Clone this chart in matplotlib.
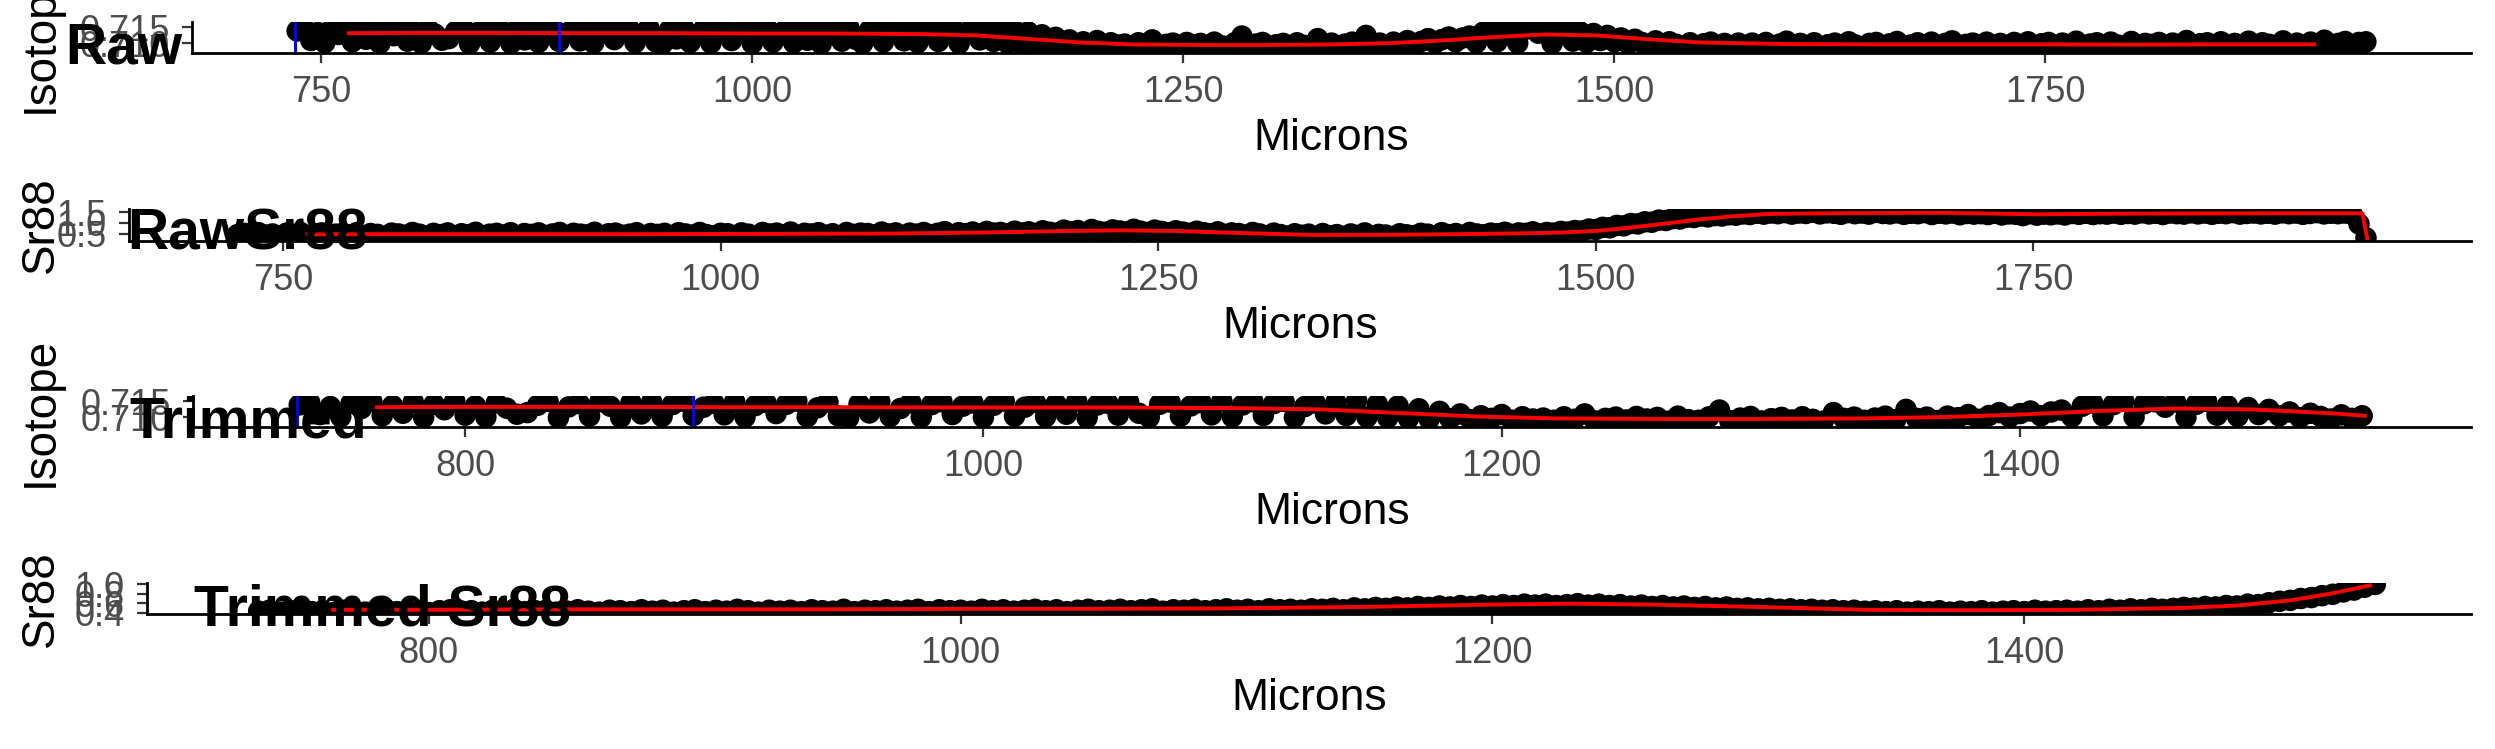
"""Laser ablation transect: raw / trimmed 87Sr/86Sr and Sr88 along the otolith (microns)."""
import matplotlib

matplotlib.use("Agg")
import matplotlib.pyplot as plt
import numpy as np

plt.rcParams["font.family"] = ["Liberation Sans", "DejaVu Sans"]

W, H = 2495, 749

# ---- data -------------------------------------------------------------------
# isotope ratio, sampled every 4 microns from 736 to 1936
ISO_START, ISO_STEP = 736, 4
iso_ratio = [
    0.7138, 0.7146, 0.7108, 0.7133, 0.7101, 0.7143, 0.7127, 0.7149, 0.7104, 0.7136,
    0.7112, 0.7147, 0.7099, 0.7140, 0.7123, 0.7150, 0.7106, 0.7135, 0.7100, 0.7144,
    0.7128, 0.7109, 0.7114, 0.7137, 0.7149, 0.7098, 0.7132, 0.7142, 0.7103, 0.7148,
    0.7134, 0.7099, 0.7145, 0.7110, 0.7147, 0.7102, 0.7139, 0.7150, 0.7105, 0.7131,
    0.7143, 0.7107, 0.7148, 0.7100, 0.7136, 0.7146, 0.7111, 0.7140, 0.7150, 0.7101,
    0.7129, 0.7147, 0.7104, 0.7098, 0.7141, 0.7113, 0.7149, 0.7102, 0.7127, 0.7145,
    0.7100, 0.7139, 0.7148, 0.7108, 0.7134, 0.7144, 0.7099, 0.7137, 0.7150, 0.7103,
    0.7131, 0.7146, 0.7101, 0.7141, 0.7109, 0.7149, 0.7098, 0.7138, 0.7143, 0.7106,
    0.7148, 0.7112, 0.7099, 0.7140, 0.7147, 0.7103, 0.7135, 0.7145, 0.7107, 0.7150,
    0.7101, 0.7138, 0.7148, 0.7105, 0.7142, 0.7149, 0.7099, 0.7133, 0.7144, 0.7110,
    0.7146, 0.7105, 0.7152, 0.7100, 0.7140, 0.7098, 0.7135, 0.7096, 0.7126, 0.7094,
    0.7118, 0.7095, 0.7110, 0.7092, 0.7104, 0.7096, 0.7108, 0.7090, 0.7101, 0.7094,
    0.7097, 0.7090, 0.7101, 0.7093, 0.7110, 0.7088, 0.7096, 0.7100, 0.7091, 0.7102,
    0.7094, 0.7099, 0.7087, 0.7103, 0.7092, 0.7090, 0.7101, 0.7122, 0.7089, 0.7097,
    0.7102, 0.7088, 0.7095, 0.7099, 0.7091, 0.7101, 0.7093, 0.7087, 0.7114, 0.7096,
    0.7100, 0.7090, 0.7097, 0.7103, 0.7092, 0.7124, 0.7096, 0.7100, 0.7089, 0.7103,
    0.7098, 0.7108, 0.7093, 0.7105, 0.7114, 0.7100, 0.7111, 0.7119, 0.7104, 0.7116,
    0.7122, 0.7101, 0.7134, 0.7144, 0.7104, 0.7139, 0.7150, 0.7100, 0.7142, 0.7148,
    0.7131, 0.7147, 0.7099, 0.7140, 0.7149, 0.7106, 0.7136, 0.7102, 0.7130, 0.7108,
    0.7124, 0.7104, 0.7116, 0.7098, 0.7112, 0.7102, 0.7094, 0.7107, 0.7096, 0.7104,
    0.7096, 0.7090, 0.7101, 0.7087, 0.7098, 0.7103, 0.7091, 0.7099, 0.7088, 0.7100,
    0.7093, 0.7100, 0.7086, 0.7102, 0.7090, 0.7097, 0.7106, 0.7089, 0.7099, 0.7092,
    0.7101, 0.7088, 0.7095, 0.7100, 0.7090, 0.7104, 0.7094, 0.7086, 0.7099, 0.7102,
    0.7091, 0.7098, 0.7105, 0.7089, 0.7094, 0.7101, 0.7087, 0.7103, 0.7092, 0.7099,
    0.7107, 0.7090, 0.7096, 0.7100, 0.7088, 0.7103, 0.7093, 0.7099, 0.7086, 0.7102,
    0.7095, 0.7104, 0.7090, 0.7098, 0.7102, 0.7087, 0.7100, 0.7092, 0.7106, 0.7089,
    0.7097, 0.7101, 0.7088, 0.7103, 0.7094, 0.7091, 0.7105, 0.7087, 0.7099, 0.7096,
    0.7102, 0.7090, 0.7100, 0.7093, 0.7108, 0.7088, 0.7098, 0.7101, 0.7091, 0.7104,
    0.7089, 0.7099, 0.7095, 0.7106, 0.7086, 0.7101, 0.7096, 0.7090, 0.7107, 0.7094,
    0.7100, 0.7091, 0.7103, 0.7096, 0.7109, 0.7089, 0.7099, 0.7105, 0.7093, 0.7102,
    0.7104,
]

# smoothed isotope ratio (red line)
iso_smooth_x = [766, 800, 850, 900, 950, 1000, 1050, 1100, 1130, 1160, 1190, 1220, 1260,
                1300, 1340, 1370, 1400, 1430, 1460, 1490, 1520, 1550, 1600, 1650, 1700,
                1750, 1800, 1850, 1906]
iso_smooth_y = [0.7131, 0.7132, 0.7132, 0.7131, 0.7131, 0.7130, 0.7130, 0.7128, 0.7124,
                0.7113, 0.7102, 0.7096, 0.7094, 0.7094, 0.7096, 0.7100, 0.7108, 0.7119,
                0.7127, 0.7124, 0.7112, 0.7102, 0.7097, 0.7096, 0.7096, 0.7096, 0.7095,
                0.7096, 0.7096]
trim_smooth_x = [766, 800, 850, 900, 950, 1000, 1050, 1100, 1130, 1160, 1190, 1220, 1260,
                 1300, 1340, 1370, 1400, 1430, 1460, 1490, 1520, 1533]
trim_smooth_y = [0.7131, 0.7132, 0.7132, 0.7131, 0.7131, 0.7130, 0.7130, 0.7128, 0.7124,
                 0.7113, 0.7102, 0.7096, 0.7094, 0.7094, 0.7096, 0.7100, 0.7108, 0.7119,
                 0.7127, 0.7124, 0.7112, 0.7104]

# Sr88 signal, sampled every 4 microns from 724 to 1940
SR_START, SR_STEP = 724, 4
sr88 = [
    0.45, 0.51, 0.38, 0.54, 0.43, 0.48, 0.36, 0.52, 0.46, 0.55,
    0.41, 0.49, 0.53, 0.37, 0.47, 0.51, 0.44, 0.54, 0.39, 0.50,
    0.46, 0.35, 0.52, 0.48, 0.42, 0.55, 0.47, 0.38, 0.51, 0.45,
    0.53, 0.40, 0.49, 0.44, 0.56, 0.39, 0.47, 0.51, 0.43, 0.54,
    0.37, 0.50, 0.46, 0.53, 0.41, 0.48, 0.55, 0.40, 0.51, 0.47,
    0.44, 0.56, 0.38, 0.49, 0.52, 0.42, 0.47, 0.54, 0.36, 0.50,
    0.46, 0.51, 0.40, 0.54, 0.48, 0.43, 0.55, 0.45, 0.39, 0.51,
    0.49, 0.41, 0.53, 0.47, 0.37, 0.55, 0.48, 0.52, 0.44, 0.57,
    0.40, 0.51, 0.48, 0.54, 0.42, 0.49, 0.38, 0.55, 0.46, 0.52,
    0.50, 0.43, 0.57, 0.48, 0.53, 0.41, 0.52, 0.47, 0.55, 0.45,
    0.51, 0.59, 0.44, 0.54, 0.49, 0.57, 0.47, 0.60, 0.52, 0.55,
    0.48, 0.61, 0.53, 0.58, 0.50, 0.63, 0.56, 0.52, 0.66, 0.59,
    0.64, 0.54, 0.69, 0.60, 0.56, 0.67, 0.62, 0.58, 0.70, 0.61,
    0.55, 0.66, 0.60, 0.53, 0.63, 0.57, 0.51, 0.61, 0.54, 0.49,
    0.58, 0.46, 0.53, 0.50, 0.43, 0.55, 0.48, 0.40, 0.52, 0.45,
    0.38, 0.49, 0.42, 0.47, 0.35, 0.50, 0.40, 0.45, 0.37, 0.48,
    0.41, 0.53, 0.39, 0.46, 0.43, 0.36, 0.49, 0.44, 0.40, 0.51,
    0.47, 0.39, 0.54, 0.45, 0.50, 0.42, 0.55, 0.48, 0.44, 0.52,
    0.49, 0.56, 0.46, 0.53, 0.51, 0.58, 0.48, 0.55, 0.52, 0.60,
    0.57, 0.64, 0.62, 0.71, 0.69, 0.79, 0.77, 0.88, 0.86, 0.97,
    0.95, 1.05, 1.03, 1.13, 1.11, 1.20, 1.18, 1.27, 1.25, 1.32,
    1.28, 1.34, 1.32, 1.38, 1.36, 1.42, 1.39, 1.45, 1.41, 1.46,
    1.43, 1.48, 1.41, 1.46, 1.44, 1.50, 1.42, 1.47, 1.45, 1.40,
    1.48, 1.43, 1.46, 1.41, 1.49, 1.44, 1.42, 1.47, 1.40, 1.45,
    1.43, 1.48, 1.39, 1.45, 1.42, 1.46, 1.38, 1.44, 1.41, 1.43,
    1.39, 1.45, 1.37, 1.42, 1.40, 1.34, 1.43, 1.36, 1.41, 1.38,
    1.42, 1.37, 1.44, 1.40, 1.45, 1.39, 1.43, 1.41, 1.46, 1.40,
    1.44, 1.41, 1.47, 1.42, 1.45, 1.39, 1.46, 1.43, 1.41, 1.47,
    1.42, 1.46, 1.40, 1.45, 1.43, 1.48, 1.41, 1.44, 1.46, 1.42,
    1.45, 1.41, 1.47, 1.43, 1.46, 1.40, 1.44, 1.48, 1.42, 1.45,
    1.43, 1.46, 1.41, 0.95, 0.30,
]

# smoothed Sr88 (red line)
sr_smooth_x = [764, 800, 850, 900, 950, 1000, 1050, 1100, 1150, 1200, 1230, 1260, 1300,
               1340, 1380, 1420, 1460, 1480, 1500, 1520, 1540, 1560, 1580, 1600, 1650,
               1700, 1750, 1800, 1850, 1900, 1938, 1941]
sr_smooth_y = [0.46, 0.47, 0.47, 0.47, 0.47, 0.48, 0.49, 0.50, 0.55, 0.62, 0.65, 0.62,
               0.52, 0.43, 0.44, 0.47, 0.51, 0.55, 0.62, 0.78, 0.97, 1.17, 1.32, 1.42,
               1.46, 1.47, 1.40, 1.43, 1.44, 1.45, 1.45, 0.15]

# trimmed Sr88, sampled every 4 microns from 736 to 1532
TSR_START, TSR_STEP = 736, 4
trim_sr88 = [
    0.43, 0.45, 0.41, 0.44, 0.46, 0.42, 0.44, 0.40, 0.45, 0.43,
    0.41, 0.44, 0.46, 0.42, 0.45, 0.43, 0.40, 0.44, 0.46, 0.42,
    0.44, 0.41, 0.45, 0.43, 0.47, 0.42, 0.44, 0.45, 0.41, 0.43,
    0.46, 0.43, 0.41, 0.45, 0.44, 0.42, 0.46, 0.43, 0.45, 0.41,
    0.44, 0.46, 0.42, 0.45, 0.43, 0.47, 0.44, 0.41, 0.45, 0.43,
    0.45, 0.42, 0.46, 0.44, 0.43, 0.47, 0.42, 0.45, 0.44, 0.46,
    0.43, 0.45, 0.47, 0.42, 0.46, 0.44, 0.45, 0.43, 0.47, 0.44,
    0.46, 0.43, 0.45, 0.47, 0.44, 0.46, 0.42, 0.45, 0.47, 0.44,
    0.45, 0.47, 0.44, 0.46, 0.48, 0.43, 0.46, 0.45, 0.47, 0.44,
    0.46, 0.48, 0.45, 0.47, 0.44, 0.48, 0.46, 0.47, 0.45, 0.48,
    0.47, 0.49, 0.46, 0.50, 0.48, 0.51, 0.49, 0.52, 0.50, 0.53,
    0.51, 0.54, 0.52, 0.55, 0.53, 0.56, 0.54, 0.57, 0.55, 0.58,
    0.56, 0.58, 0.55, 0.57, 0.59, 0.56, 0.58, 0.55, 0.57, 0.54,
    0.56, 0.53, 0.55, 0.52, 0.54, 0.51, 0.53, 0.50, 0.52, 0.49,
    0.50, 0.48, 0.49, 0.47, 0.48, 0.46, 0.47, 0.45, 0.46, 0.44,
    0.45, 0.43, 0.44, 0.42, 0.44, 0.41, 0.43, 0.42, 0.44, 0.41,
    0.43, 0.42, 0.44, 0.41, 0.43, 0.44, 0.42, 0.45, 0.43, 0.44,
    0.45, 0.43, 0.46, 0.44, 0.47, 0.45, 0.48, 0.46, 0.49, 0.47,
    0.49, 0.51, 0.50, 0.53, 0.52, 0.55, 0.54, 0.58, 0.57, 0.61,
    0.64, 0.66, 0.70, 0.72, 0.76, 0.79, 0.84, 0.88, 0.94, 1.00,
]
trim_sr_smooth_x = [764, 800, 850, 900, 950, 1000, 1050, 1100, 1150, 1200, 1230, 1260,
                    1300, 1340, 1380, 1420, 1460, 1480, 1500, 1515, 1530]
trim_sr_smooth_y = [0.46, 0.46, 0.47, 0.47, 0.47, 0.48, 0.48, 0.49, 0.52, 0.57, 0.59,
                    0.57, 0.52, 0.46, 0.45, 0.46, 0.50, 0.55, 0.66, 0.80, 0.98]

trim_end = 1532
window_edges = [735, 888]

iso_x = ISO_START + ISO_STEP * np.arange(len(iso_ratio))
sr_x = SR_START + SR_STEP * np.arange(len(sr88))
tsr_x = TSR_START + TSR_STEP * np.arange(len(trim_sr88))
iso_y = np.array(iso_ratio)
keep_iso = iso_x <= trim_end

# ---- layout (pixels in the 2495x749 output) ----------------------------------
PANELS = [
    # title, ylabel, x, y, smooth x, smooth y, xlim, ylim, xticks, yticks, left, top, bottom, windows
    ("Raw", "Isotope", iso_x, iso_y, iso_smooth_x, iso_smooth_y, (675, 1997),
     (0.7069, 0.7166), [750, 1000, 1250, 1500, 1750], [0.710, 0.715], 192, 22, 53, True),
    ("RawSr88", "Sr88", sr_x, sr88, sr_smooth_x, sr_smooth_y, (662, 2000),
     (0.15, 1.65), [750, 1000, 1250, 1500, 1750], [0.5, 1.0, 1.5], 129, 209, 241, False),
    ("Trimmed", "Isotope", iso_x[keep_iso], iso_y[keep_iso], trim_smooth_x, trim_smooth_y,
     (695, 1574), (0.7069, 0.7166), [800, 1000, 1200, 1400], [0.710, 0.715], 193, 396, 427, True),
    ("Trimmed Sr88", "Sr88", tsr_x, trim_sr88, trim_sr_smooth_x, trim_sr_smooth_y,
     (694, 1568), (0.37, 1.03), [800, 1000, 1200, 1400], [0.4, 0.6, 0.8, 1.0], 147, 583, 614, False),
]
TITLE_POS = [(65, 63), (127, 250), (129, 438), (194, 625)]
RIGHT = 2471

fig = plt.figure(figsize=(W / 100, H / 100), dpi=100)

for (title, ylab, x, y, sx, sy, xlim, ylim, xt, yt, left, top, bottom, windows), (tx, ty) in zip(
        PANELS, TITLE_POS):
    ax = fig.add_axes([left / W, 1 - bottom / H, (RIGHT - left) / W, (bottom - top) / H])
    ax.scatter(x, y, s=240, color="black", edgecolors="none", zorder=2)
    ax.plot(sx, sy, color="red", lw=2.8, zorder=3, solid_joinstyle="round")
    if windows:
        for e in window_edges:
            ax.axvline(e, color="blue", lw=2.2, zorder=4)
    ax.set_xlim(*xlim)
    ax.set_ylim(*ylim)
    ax.set_xticks(xt)
    ax.set_xticklabels([str(v) for v in xt])
    ax.set_yticks(yt)
    fmt = "{:.1f}" if ylab == "Sr88" else "{:.3f}"
    ax.set_yticklabels([fmt.format(v) for v in yt])
    for side in ("top", "right"):
        ax.spines[side].set_visible(False)
    for side in ("left", "bottom"):
        ax.spines[side].set_linewidth(2.0)
        ax.spines[side].set_color("black")
        ax.spines[side].set_zorder(5)
    ax.tick_params(labelsize=26, labelcolor="#4D4D4D", color="#333333", length=7, width=1.6, pad=9)
    ax.set_facecolor("none")

    mid = (left + RIGHT) / 2
    fig.text(mid / W, 1 - (bottom + 85) / H, "Microns", fontsize=32, ha="center", va="center")
    fig.text(41 / W, 1 - (top + bottom) / 2 / H, ylab, fontsize=33, rotation=90,
             ha="center", va="center")
    fig.text(tx / W, 1 - ty / H, title, fontsize=41, fontweight="bold", ha="left", va="baseline")

fig.savefig("out.png", dpi=100)
